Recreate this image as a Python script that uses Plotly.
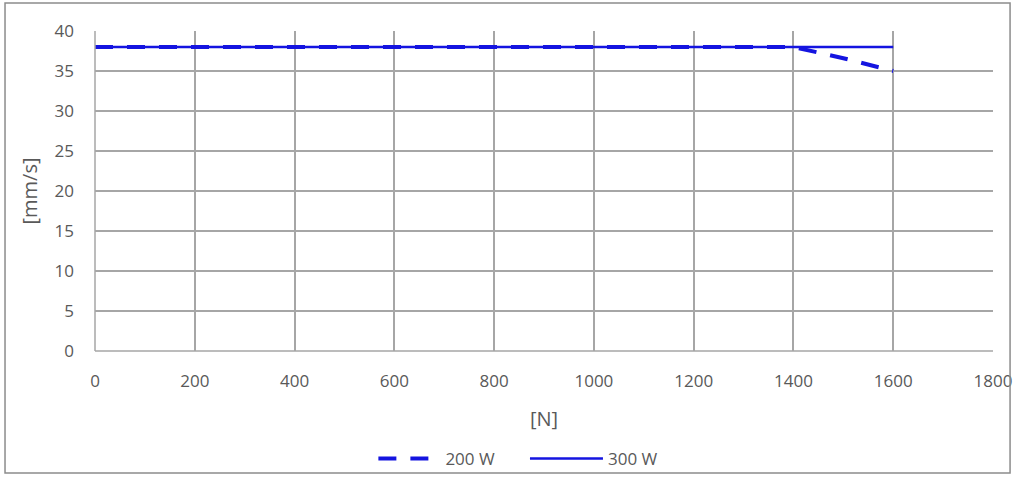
import plotly.graph_objects as go

force_200 = [0, 200, 400, 600, 800, 1000, 1200, 1400, 1500, 1600]
speed_200 = [38, 38, 38, 38, 38, 38, 38, 38, 36.6, 35]
force_300 = [0, 200, 400, 600, 800, 1000, 1200, 1400, 1600]
speed_300 = [38, 38, 38, 38, 38, 38, 38, 38, 38]

x_ticks = [0, 200, 400, 600, 800, 1000, 1200, 1400, 1600, 1800]
y_ticks = [0, 5, 10, 15, 20, 25, 30, 35, 40]

blue = "#1414e0"
grey_txt = "#595959"
font = dict(family="Open Sans, Noto Sans, sans-serif", size=17, color=grey_txt)

fig = go.Figure()
fig.add_trace(go.Scatter(x=force_200, y=speed_200, mode="lines", name="200 W",
                         line=dict(color=blue, width=4, dash="18px,14px"),
                         legend="legend"))
fig.add_trace(go.Scatter(x=force_300, y=speed_300, mode="lines", name="300 W",
                         line=dict(color=blue, width=2.5), legend="legend2"))

leg_common = dict(orientation="h", y=-0.3375, yanchor="middle", font=font,
                  bgcolor="rgba(0,0,0,0)", xanchor="left")

fig.update_layout(
    width=1016, height=477,
    margin=dict(l=95, r=23, t=31, b=126, autoexpand=False),
    paper_bgcolor="white", plot_bgcolor="white",
    font=font,
    xaxis=dict(range=[0, 1800], tickvals=x_ticks, showgrid=True, gridcolor="#a6a6a6",
               gridwidth=1.5, zeroline=False, showline=False, ticks="",
               ticklabelstandoff=18, automargin=False,
               title=dict(text="[N]", standoff=20), tickfont=font),
    yaxis=dict(range=[0, 40], tickvals=y_ticks, showgrid=True, gridcolor="#a6a6a6",
               gridwidth=1.5, zeroline=False, showline=False, ticks="",
               ticklabelstandoff=20, automargin=False,
               title=dict(text="[mm/s]", standoff=11), tickfont=font),
    legend=dict(x=0.31, itemwidth=62, **leg_common),
    legend2=dict(x=0.4788, itemwidth=73, **leg_common),
    showlegend=True,
)
fig.add_shape(type="line", xref="paper", yref="paper", x0=0, x1=1, y0=0, y1=0,
              line=dict(color="#a6a6a6", width=1.5))
fig.add_shape(type="line", xref="paper", yref="paper", x0=0, x1=0, y0=0, y1=1,
              line=dict(color="#a6a6a6", width=1.5))
fig.add_shape(type="rect", xref="paper", yref="paper", x0=-0.1002, x1=1.019,
              y0=-0.381, y1=1.0875, line=dict(color="#8c8c8c", width=1.5))

fig.write_html("out.html", config={"displayModeBar": False},
               post_script="document.body.style.margin='0';document.body.style.overflow='hidden';")
